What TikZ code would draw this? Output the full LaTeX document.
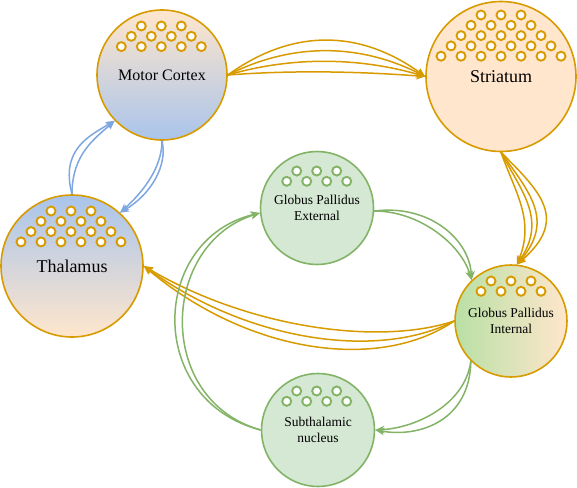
\documentclass[tikz,border=0pt]{standalone}
\usepackage{fontspec}
\setmainfont{Liberation Serif}
\newfontfamily\nodeserif{Liberation Serif}
\usetikzlibrary{arrows.meta}
\definecolor{orS}{HTML}{D79B00}
\definecolor{orF}{HTML}{FFE6CC}
\definecolor{blF}{HTML}{A9C4EB}
\definecolor{blA}{HTML}{7EA6E0}
\definecolor{grS}{HTML}{82B366}
\definecolor{grF}{HTML}{D5E8D4}
\definecolor{grG}{HTML}{B9E0A5}
\newcommand{\ringrows}[5]{%
  \foreach \n [count=\k from 0] in {#3,...,#4} {
    \foreach \i in {1,...,\n} {
      \draw[#5] ({#1+(\i-(\n+1)/2)*20},{#2+\k*10.3}) circle (4.5pt);
    }
  }%
}
\begin{document}
\begin{tikzpicture}[x=1pt,y=-1pt,
  region/.style={circle, line width=1.6pt, inner sep=0pt, align=center,
    font=\nodeserif\fontsize{13.5}{16.5}\selectfont},
  orR/.style={region, draw=orS},
  grR/.style={region, draw=grS, fill=grF},
  bigfont/.style={font=\nodeserif\fontsize{18}{20}\selectfont},
  ringO/.style={draw=orS, fill=white, line width=1.9pt},
  ringG/.style={draw=grS, fill=white, line width=1.9pt},
  tipA/.style={-{Stealth[length=9pt,width=7.5pt,inset=2.5pt]}},
  orA/.style={draw=orS, line width=1.5pt, tipA},
  blAr/.style={draw=blA, line width=1.5pt, tipA},
  grA/.style={draw=grS, line width=1.5pt, tipA}]
\useasboundingbox (0,0) rectangle (577,487);

% regions
\node[orR, minimum size=130pt, top color=orF, bottom color=blF,
  font=\nodeserif\fontsize{16}{18}\selectfont] (mc) at (162,75) {Motor Cortex};
\node[orR, fill=orF, minimum size=150pt, bigfont] (str) at (501,76.5) {Striatum};
\node[orR, minimum size=142pt, top color=blF, bottom color=orF, bigfont] (thal) at (72,266) {Thalamus};
\node[grR, minimum size=113pt] (gpe) at (317,208) {Globus Pallidus\\External};
\node[orR, minimum size=112pt, left color=grG, right color=orF] (gpi) at (511,321) {Globus Pallidus\\Internal};
\node[grR, minimum size=113pt] (stn) at (318,430) {Subthalamic\\nucleus};

% neuron rings
\ringrows{161.3}{26}{3}{5}{ringO}
\ringrows{501}{15}{3}{7}{ringO}
\ringrows{71}{211}{3}{6}{ringO}
\ringrows{316.7}{171}{3}{4}{ringG}
\ringrows{511}{281}{3}{4}{ringO}
\ringrows{316.7}{391}{3}{4}{ringG}

% Motor Cortex -> Striatum
\draw[orA] (mc.east) .. controls +(65,-47) and +(-65,-47) .. (str.west);
\draw[orA] (mc.east) .. controls +(65,-33) and +(-65,-33) .. (str.west);
\draw[orA] (mc.east) .. controls +(65,-19) and +(-65,-19) .. (str.west);
\draw[orA] (mc.east) .. controls +(65,-5) and +(-65,-5) .. (str.west);

% Striatum -> GPi
\draw[orA] (str.south) .. controls +(40,40) and +(52,-45) .. (gpi.84);
\draw[orA] (str.south) .. controls +(28,40) and +(38,-45) .. (gpi.84);
\draw[orA] (str.south) .. controls +(21,40) and +(30,-45) .. (gpi.84);
\draw[orA] (str.south) .. controls +(14,40) and +(18,-45) .. (gpi.84);

% Thalamus <-> Motor Cortex
\draw[blAr] (thal.north) .. controls +(-12,-45) and +(-25,15) .. (mc.224);
\draw[blAr] (thal.north) .. controls +(0,-40) and +(-20,18) .. (mc.224);
\draw[blAr] (mc.south) .. controls +(6,25) and +(30.5,-18) .. (thal.48);
\draw[blAr] (mc.south) .. controls +(0,25) and +(25.5,-23) .. (thal.48);

% GPi -> Thalamus
\draw[orA] (gpi.west) .. controls +(-75,51) and +(105,88) .. (thal.east);
\draw[orA] (gpi.west) .. controls +(-75,39) and +(105,76) .. (thal.east);
\draw[orA] (gpi.west) .. controls +(-75,25) and +(105,62) .. (thal.east);

% GPe -> GPi
\draw[grA] (gpe.-3) .. controls +(56,-7) and +(-2,-40) .. (gpi.134);
\draw[grA] (gpe.-3) .. controls +(46,0) and +(-10,-35) .. (gpi.134);

% GPi -> STN
\draw[grA] (gpi.225) .. controls +(-1,59) and +(45,8) .. (stn.east);
\draw[grA] (gpi.225) .. controls +(-6,44) and +(40,-2) .. (stn.east);

% STN -> GPe
\draw[grA] (stn.west) .. controls +(-116,-30) and +(-110,26) .. (gpe.185);
\draw[grA] (stn.west) .. controls +(-106,-30) and +(-100,31) .. (gpe.185);
\end{tikzpicture}
\end{document}
